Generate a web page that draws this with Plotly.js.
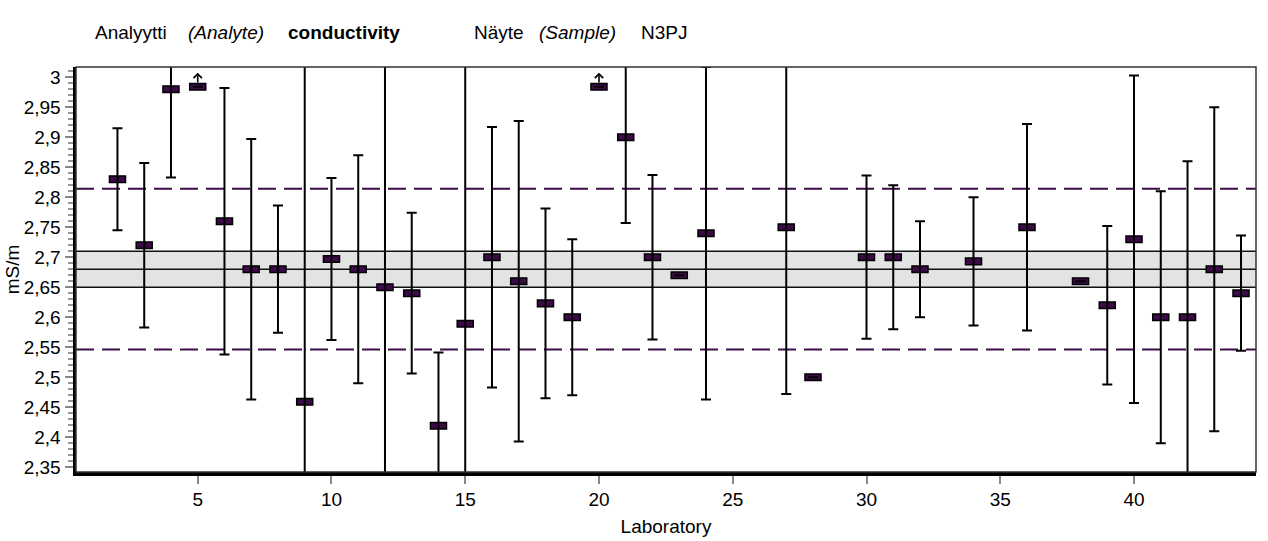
<!DOCTYPE html>
<html>
<head>
<meta charset="utf-8">
<script src="https://cdn.plot.ly/plotly-3.0.1.min.js"></script>
<style>html,body{margin:0;padding:0;background:#fff;}#chart{width:1268px;height:541px;}</style>
</head>
<body>
<div id="chart"></div>
<script>
// ---- data ----
const labs = [2,3,4,5,6,7,8,9,10,11,12,13,14,15,16,17,18,19,20,21,22,23,24,27,28,30,31,32,34,36,38,39,40,41,42,43,44];
const results = [2.83,2.72,2.98,2.984,2.76,2.68,2.68,2.459,2.697,2.68,2.65,2.64,2.419,2.589,2.70,2.66,2.623,2.60,2.984,2.90,2.70,2.67,2.74,2.75,2.50,2.70,2.70,2.68,2.693,2.75,2.66,2.62,2.73,2.60,2.60,2.68,2.64];
const uncertainty = [0.085,0.137,0.147,null,0.222,0.217,0.106,0.6,0.135,0.19,0.4,0.134,0.122,0.45,0.217,0.267,0.158,0.13,null,0.143,0.137,null,0.277,0.278,null,0.136,0.12,0.08,0.107,0.172,null,0.132,0.273,0.21,0.26,0.27,0.096];
const offScaleLabs = [5, 20];
const assignedValue = 2.68;
const assignedUncertainty = 0.03;
const acceptLimit = 0.134;
const xTicks = [5,10,15,20,25,30,35,40];

// ---- styling constants ----
const FONT = '"Liberation Sans", Arial, sans-serif';
const markH = 0.011;
const purple = '#3c0a46';

const errTrace = {
  type: 'scatter', mode: 'markers', x: labs, y: results,
  marker: {size: 1, color: 'rgba(0,0,0,0)'},
  error_y: {type: 'data', array: uncertainty, visible: true, color: '#000', thickness: 2, width: 5},
  hoverinfo: 'skip', showlegend: false
};
const markTrace = {
  type: 'bar', x: labs, y: results.map(() => markH), base: results.map(v => v - markH/2),
  width: 0.6, marker: {color: purple, line: {color: '#000', width: 1.5}},
  hoverinfo: 'skip', showlegend: false
};

const shapes = [
  {type:'rect', xref:'paper', yref:'y', x0:0, x1:1, y0:assignedValue-assignedUncertainty, y1:assignedValue+assignedUncertainty, fillcolor:'#e3e3e3', line:{width:0}, layer:'below'},
  {type:'line', xref:'paper', yref:'y', x0:0, x1:1, y0:assignedValue+assignedUncertainty, y1:assignedValue+assignedUncertainty, line:{color:'#111', width:1.5}, layer:'below'},
  {type:'line', xref:'paper', yref:'y', x0:0, x1:1, y0:assignedValue, y1:assignedValue, line:{color:'#111', width:1.5}, layer:'below'},
  {type:'line', xref:'paper', yref:'y', x0:0, x1:1, y0:assignedValue-assignedUncertainty, y1:assignedValue-assignedUncertainty, line:{color:'#111', width:1.5}, layer:'below'},
  {type:'line', xref:'paper', yref:'y', x0:0, x1:1, y0:assignedValue+acceptLimit, y1:assignedValue+acceptLimit, line:{color:purple, width:2, dash:'18px,8px'}, layer:'below'},
  {type:'line', xref:'paper', yref:'y', x0:0, x1:1, y0:assignedValue-acceptLimit, y1:assignedValue-acceptLimit, line:{color:purple, width:2, dash:'18px,8px'}, layer:'below'},
  {type:'rect', xref:'paper', yref:'paper', x0:0, x1:1, y0:0, y1:1, line:{color:'#333', width:1.5}, fillcolor:'rgba(0,0,0,0)', layer:'above'}
];

const annotations = offScaleLabs.map(l => ({
  x: l, y: 3.0075, xref:'x', yref:'y', ax: l, ay: 2.9885, axref:'x', ayref:'y',
  showarrow: true, arrowhead: 4, arrowsize: 1, arrowwidth: 1.6, arrowcolor: '#000', text: ''
}));
const titleParts = [
  {t:'Analyytti', x:93}, {t:'<i>(Analyte)</i>', x:186}, {t:'<b>conductivity</b>', x:286},
  {t:'Näyte', x:472}, {t:'<i>(Sample)</i>', x:537}, {t:'N3PJ', x:639}
];
titleParts.forEach(p => annotations.push({
  text: p.t, xref:'paper', yref:'paper', x:(p.x-76)/1180, y:(472-32)/405, xanchor:'left', yanchor:'middle',
  showarrow:false, font:{family:FONT, size:19, color:'#000'}
}));

const layout = {
  width: 1268, height: 541,
  margin: {l:76, r:12, t:67, b:69},
  paper_bgcolor: '#fff', plot_bgcolor: '#fff',
  separators: ', ',
  barmode: 'overlay',
  showlegend: false,
  font: {family: FONT, size: 19, color: '#000'},
  xaxis: {
    range: [0.45, 44.56], tickvals: xTicks, ticktext: xTicks.map(String),
    ticks: 'outside', ticklen: 8, tickwidth: 2, tickcolor: '#888',
    showline: true, linewidth: 3.5, linecolor: '#000', showgrid: false, zeroline: false,
    title: {text: 'Laboratory', font: {family: FONT, size: 19}, standoff: 11}
  },
  yaxis: {
    range: [2.342, 3.017], dtick: 0.05, tick0: 0,
    ticks: 'outside', ticklen: 8, tickwidth: 2, tickcolor: '#888',
    minor: {dtick: 0.01, ticks: 'outside', ticklen: 5, tickwidth: 1.5, tickcolor: '#999', showgrid: false},
    showline: true, linewidth: 3.5, linecolor: '#000', showgrid: false, zeroline: false,
    title: {text: 'mS/m', font: {family: FONT, size: 19}, standoff: 0}
  },
  shapes: shapes,
  annotations: annotations
};

Plotly.newPlot('chart', [errTrace, markTrace], layout, {displayModeBar: false, staticPlot: true});
</script>
</body>
</html>
